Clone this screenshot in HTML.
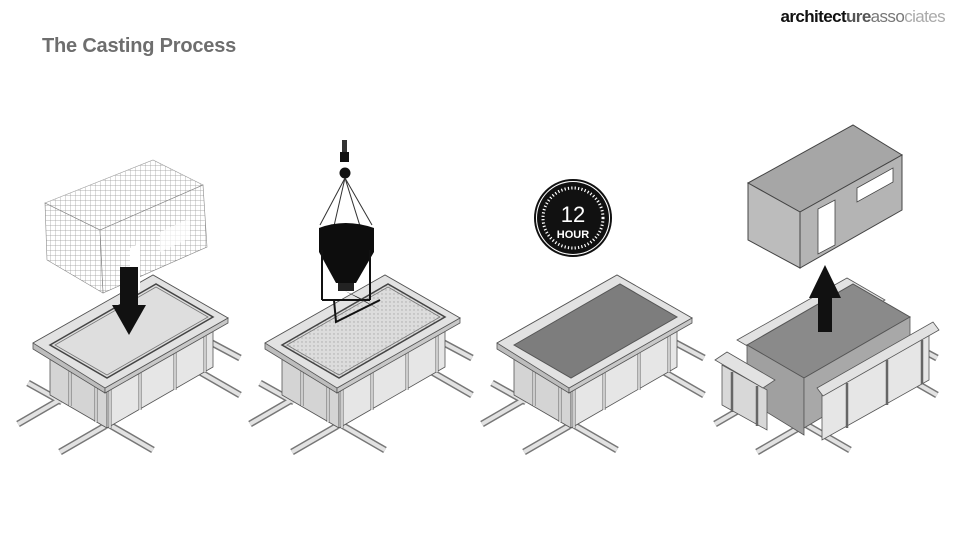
<!DOCTYPE html>
<html><head><meta charset="utf-8"><style>
html,body{margin:0;padding:0;background:#fff;}
body{width:960px;height:540px;overflow:hidden;position:relative;font-family:"Liberation Sans",Arial,sans-serif;}
.title{position:absolute;left:42px;top:35px;font-size:20px;font-weight:bold;color:#6e6e6e;letter-spacing:-0.2px;}
.logo{position:absolute;right:15px;top:7px;font-size:17px;letter-spacing:-0.6px;}
</style></head><body>
<div class="title">The Casting Process</div>
<div class="logo"><b style="color:#111">architect</b><b style="color:#555">ure</b><span style="color:#777">asso</span><span style="color:#aaa">ciates</span></div>
<svg width="960" height="540" style="position:absolute;left:0;top:0">
<defs>
<pattern id="grid" width="5" height="5" patternUnits="userSpaceOnUse">
<path d="M0 0H5M0 0V5" stroke="#999" stroke-width="0.7" fill="none"/>
</pattern>
<pattern id="dots" width="4" height="4" patternUnits="userSpaceOnUse">
<rect width="4" height="4" fill="#dcdcdc"/><circle cx="2" cy="2" r="0.7" fill="#aaa"/>
</pattern>
<g id="beams" stroke-linecap="butt">
<g stroke="#777" stroke-width="7">
<line x1="18" y1="424" x2="75" y2="391"/>
<line x1="28" y1="383" x2="62" y2="402"/>
<line x1="60" y1="452" x2="105" y2="426"/>
<line x1="108" y1="424" x2="153" y2="450"/>
<line x1="195" y1="334" x2="240" y2="358"/>
<line x1="200" y1="372" x2="240" y2="395"/>
</g>
<g stroke="#e2e2e2" stroke-width="4">
<line x1="18" y1="424" x2="75" y2="391"/>
<line x1="28" y1="383" x2="62" y2="402"/>
<line x1="60" y1="452" x2="105" y2="426"/>
<line x1="108" y1="424" x2="153" y2="450"/>
<line x1="195" y1="334" x2="240" y2="358"/>
<line x1="200" y1="372" x2="240" y2="395"/>
</g>
</g>
<g id="body">
<polygon points="50,348 107,381 107,428 50,395" fill="#d4d4d4" stroke="#555" stroke-width="0.8"/>
<polygon points="107,381 213,320 213,367 107,428" fill="#e6e6e6" stroke="#555" stroke-width="0.8"/>
<g stroke="#666" stroke-width="3" fill="none">
<line x1="70" y1="360" x2="70" y2="406"/>
<line x1="96" y1="375" x2="96" y2="422"/>
<line x1="110" y1="380" x2="110" y2="428"/>
<line x1="140" y1="362" x2="140" y2="410"/>
<line x1="175" y1="342" x2="175" y2="390"/>
<line x1="205" y1="325" x2="205" y2="372"/>
</g>
<g stroke="#eee" stroke-width="1.5" fill="none">
<line x1="70" y1="360" x2="70" y2="406"/>
<line x1="96" y1="375" x2="96" y2="422"/>
<line x1="110" y1="380" x2="110" y2="428"/>
<line x1="140" y1="362" x2="140" y2="410"/>
<line x1="175" y1="342" x2="175" y2="390"/>
<line x1="205" y1="325" x2="205" y2="372"/>
</g>
</g>
<g id="plate">
<polygon points="33,343 153,275 228,318 105,388 105,393 33,349" fill="#bdbdbd" stroke="#555" stroke-width="0.8"/>
<polygon points="105,388 228,318 228,323 105,393" fill="#c8c8c8" stroke="#555" stroke-width="0.8"/>
<polygon points="33,343 153,275 228,318 105,388" fill="#e2e2e2" stroke="#555" stroke-width="0.8"/>
</g>
</defs>

<!-- Panel 1 -->
<g>
<use href="#beams"/><use href="#body"/><use href="#plate"/>
<polygon points="50,345 156,284 213,317 107,378" fill="#dedede" stroke="#444" stroke-width="1.5"/>
<polygon points="55,345 156,287 208,317 107,375" fill="none" stroke="#777" stroke-width="0.8"/>
<polygon points="45,203 153,160 203,185 100,230" fill="url(#grid)" stroke="#999" stroke-width="0.6"/>
<polygon points="45,203 100,230 103,293 47,260" fill="url(#grid)" stroke="#888" stroke-width="0.6"/>
<polygon points="100,230 203,185 207,247 103,293" fill="url(#grid)" stroke="#888" stroke-width="0.6"/>
<polygon points="130,248 140,243 140,290 130,294" fill="#fff"/>
<polygon points="160,232 190,218 190,238 160,252" fill="#fff" opacity="0.7"/>
<rect x="120" y="267" width="18" height="40" fill="#111"/>
<polygon points="112,305 146,305 129,335" fill="#111"/>
</g>

<!-- Panel 2 -->
<g transform="translate(232,0)">
<use href="#beams"/><use href="#body"/><use href="#plate"/>
<polygon points="50,345 156,284 213,317 107,378" fill="url(#dots)" stroke="#444" stroke-width="1.5"/>
<polygon points="55,345 156,287 208,317 107,375" fill="none" stroke="#777" stroke-width="0.8"/>
</g>
<g>
<rect x="342" y="140" width="5" height="14" fill="#333"/>
<rect x="340" y="152" width="9" height="10" fill="#111"/>
<circle cx="345" cy="173" r="5.5" fill="#111"/>
<g stroke="#333" stroke-width="1" fill="none">
<line x1="345" y1="178" x2="320" y2="225"/><line x1="345" y1="178" x2="372" y2="225"/>
<line x1="345" y1="178" x2="334" y2="226"/><line x1="345" y1="178" x2="360" y2="226"/>
</g>
<path d="M319 228 Q345 218 374 228 L374 252 L356 283 L336 283 L319 252 Z" fill="#0d0d0d"/>
<rect x="338" y="283" width="16" height="8" fill="#222"/>
<g stroke="#111" stroke-width="2" fill="none">
<line x1="322" y1="250" x2="322" y2="300"/><line x1="370" y1="250" x2="370" y2="300"/>
<line x1="322" y1="300" x2="370" y2="300"/>
<polyline points="334,300 336,322 380,300"/>
</g>
<polygon points="345,291 380,310 360,298" fill="#222"/>
</g>

<!-- Panel 3 -->
<g transform="translate(464,0)">
<use href="#beams"/><use href="#body"/><use href="#plate"/>
<polygon points="50,345 156,284 213,317 107,378" fill="#7d7d7d" stroke="#555" stroke-width="1"/>
</g>
<g>
<circle cx="573" cy="218" r="36" fill="#111"/>
<circle cx="573" cy="218" r="30" fill="none" stroke="#fff" stroke-width="3" stroke-dasharray="1.2 2.2"/>
<circle cx="573" cy="218" r="38" fill="none" stroke="#111" stroke-width="2"/>
<text x="573" y="222" text-anchor="middle" font-family="Liberation Sans,sans-serif" font-size="22" fill="#fff">12</text>
<text x="573" y="238" text-anchor="middle" font-family="Liberation Sans,sans-serif" font-weight="bold" font-size="11" fill="#fff">HOUR</text>
</g>

<!-- Panel 4 -->
<g transform="translate(697,0)">
<use href="#beams"/>
<!-- back plate -->
<polygon points="40,340 150,278 188,300 78,362" fill="#e2e2e2" stroke="#555" stroke-width="0.8"/>
<!-- concrete -->
<polygon points="50,345 156,284 213,317 107,378" fill="#8a8a8a" stroke="#555" stroke-width="1"/>
<polygon points="50,345 107,378 107,435 50,400" fill="#a0a0a0" stroke="#555" stroke-width="0.8"/>
<polygon points="107,378 213,317 213,365 107,428" fill="#a8a8a8" stroke="#555" stroke-width="0.8"/>
<!-- left wall pulled away -->
<polygon points="25,365 70,390 70,430 25,405" fill="#d8d8d8" stroke="#555" stroke-width="0.8"/>
<polygon points="18,360 30,352 78,380 66,388" fill="#e2e2e2" stroke="#555" stroke-width="0.8"/>
<g stroke="#666" stroke-width="2.5"><line x1="35" y1="372" x2="35" y2="412"/><line x1="60" y1="386" x2="60" y2="426"/></g>
<!-- right wall pulled away -->
<polygon points="125,395 232,335 232,380 125,440" fill="#e6e6e6" stroke="#555" stroke-width="0.8"/>
<polygon points="120,388 236,322 242,330 126,396" fill="#e2e2e2" stroke="#555" stroke-width="0.8"/>
<g stroke="#666" stroke-width="2.5"><line x1="150" y1="383" x2="150" y2="428"/><line x1="190" y1="360" x2="190" y2="405"/><line x1="225" y1="340" x2="225" y2="384"/></g>
</g>
<g>
<polygon points="748,183 853,125 902,155 800,212" fill="#a6a6a6" stroke="#444" stroke-width="1"/>
<polygon points="748,183 800,212 800,268 748,240" fill="#bcbcbc" stroke="#444" stroke-width="1"/>
<polygon points="800,212 902,155 902,210 800,268" fill="#b4b4b4" stroke="#444" stroke-width="1"/>
<polygon points="818,209 835,200 835,245 818,254" fill="#fff" stroke="#444" stroke-width="0.8"/>
<polygon points="857,188 893,168 893,182 857,202" fill="#fff" stroke="#444" stroke-width="0.8"/>
<rect x="818" y="295" width="14" height="37" fill="#111"/>
<polygon points="809,298 841,298 825,265" fill="#111"/>
</g>
</svg>
</body></html>
